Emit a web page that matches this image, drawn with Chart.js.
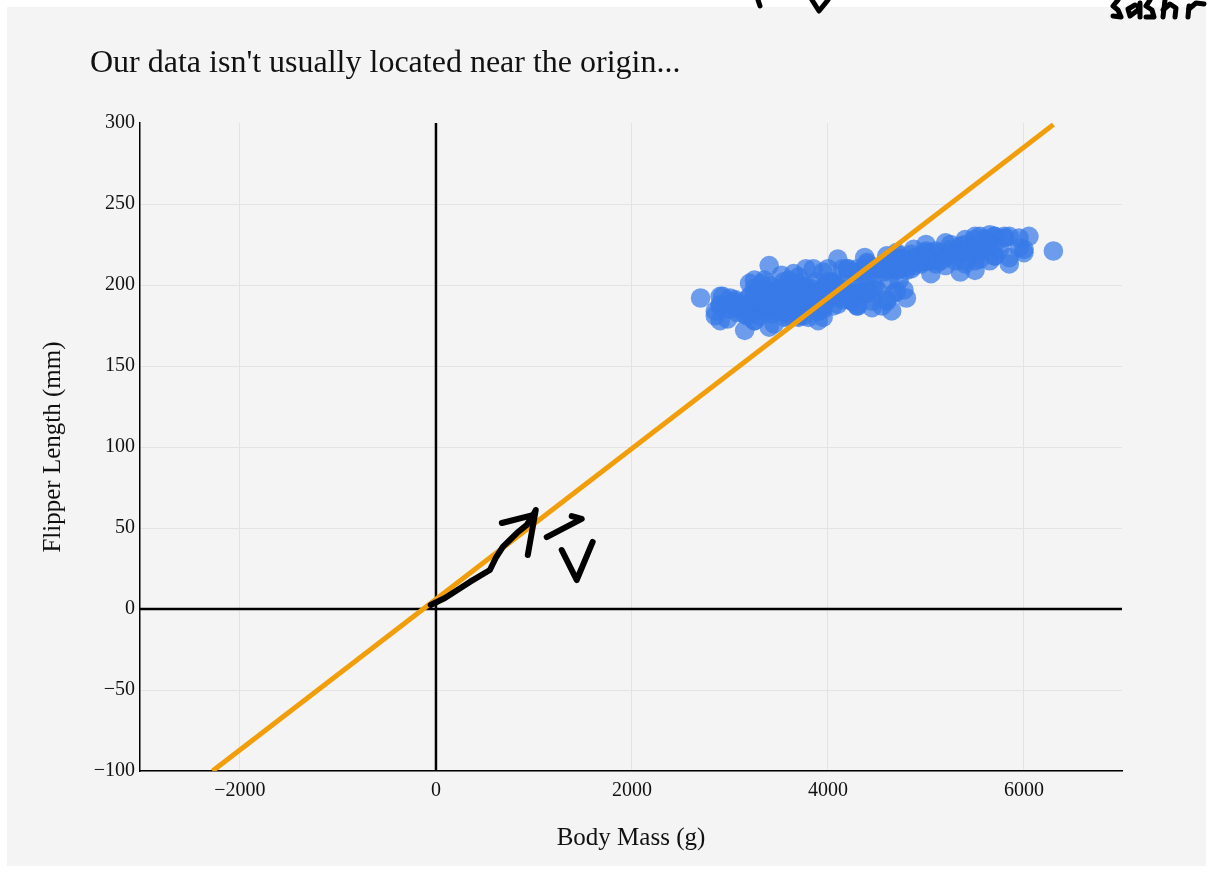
<!DOCTYPE html>
<html>
<head>
<meta charset="utf-8">
<script src="https://cdn.jsdelivr.net/npm/chart.js@4.4.1/dist/chart.umd.min.js"></script>
<style>
  html, body { margin: 0; padding: 0; background: #fff; }
  #wrap { width: 1213px; height: 873px; }
</style>
</head>
<body>
<div id="wrap"><canvas id="chart" width="1213" height="873"></canvas></div>
<script>
// Palmer penguins: [body mass (g), flipper length (mm)]
const adelie = [
  [3750,181],[3800,186],[3250,195],[3450,193],[3650,190],[3625,181],[4675,195],[3475,193],[4250,190],[3300,186],
  [3700,180],[3200,182],[3800,191],[4400,198],[3700,185],[3450,195],[4500,197],[3325,184],[4200,194],[3400,174],
  [3600,180],[3800,189],[3950,185],[3800,180],[3800,187],[3550,183],[3200,187],[3150,172],[3950,180],[3250,178],
  [3900,178],[3300,188],[3900,184],[3325,195],[4150,196],[3950,190],[3550,180],[3300,181],[4650,184],[3150,182],
  [3900,195],[3100,186],[4400,196],[3000,185],[4600,190],[3425,182],[2975,179],[3450,190],[4150,191],[3500,186],
  [4300,188],[3450,190],[4050,200],[2900,187],[3700,191],[3550,186],[3800,193],[2850,181],[3750,194],[3150,185],
  [4400,195],[3600,185],[4050,192],[2850,184],[3950,192],[3350,195],[4100,188],[3050,190],[4450,198],[3600,190],
  [3900,190],[3550,196],[4150,197],[3700,190],[4250,195],[3700,191],[3900,184],[3550,187],[4000,195],[3200,189],
  [4700,196],[3800,187],[4200,193],[3350,191],[3550,194],[3800,190],[3500,189],[3950,189],[3600,190],[3550,202],
  [4300,205],[3400,185],[4450,186],[3300,187],[4300,208],[3700,190],[4350,196],[2900,178],[4100,192],[3725,192],
  [4725,203],[3075,183],[4250,190],[2925,193],[3550,184],[3750,199],[3900,190],[3175,181],[4775,197],[3825,198],
  [4600,191],[3200,193],[4275,197],[3900,191],[4075,196],[2900,188],[3775,199],[3350,189],[3325,189],[3150,187],
  [3500,198],[3450,176],[3875,202],[3050,186],[4000,199],[3275,191],[4300,195],[3050,191],[4000,210],[3325,190],
  [3500,197],[3500,193],[4475,199],[3425,187],[3900,190],[3175,191],[3975,200],[3400,185],[4250,193],[3400,193],
  [3475,187],[3050,188],[3725,190],[3000,192],[3650,185],[4250,190],[3475,184],[3450,195],[3750,193],[3700,187],
  [4000,201]
];
const gentoo = [
  [4500,211],[5700,230],[4450,210],[5700,218],[5400,215],[4550,210],[4800,211],[5200,219],[4400,209],[5150,215],
  [4650,214],[5550,216],[4650,214],[5850,213],[4200,210],[5850,217],[4150,210],[6300,221],[4800,209],[5350,222],
  [5700,218],[5000,215],[4400,213],[5050,215],[5000,215],[5100,215],[4100,216],[5650,215],[4600,210],[5550,220],
  [5250,222],[4700,209],[5050,207],[6050,230],[5150,220],[5400,220],[4950,213],[5250,219],[4350,208],[5350,208],
  [3950,208],[5700,225],[4300,210],[4750,216],[5550,222],[4900,217],[4200,210],[5400,225],[5100,213],[5300,215],
  [4850,210],[5300,220],[4400,210],[5000,225],[4900,217],[5050,220],[4300,208],[5000,220],[4450,208],[5550,224],
  [4200,208],[5300,221],[4400,214],[5650,231],[4700,219],[5700,230],[4650,214],[5800,229],[4700,220],[5550,223],
  [4750,216],[5000,221],[5100,221],[5200,217],[4700,216],[5800,230],[4600,209],[6000,220],[4750,215],[5950,223],
  [4625,212],[5450,221],[4725,212],[5350,224],[4750,212],[5600,228],[4600,218],[5300,218],[4875,212],[5550,230],
  [4950,218],[5400,228],[4750,212],[5650,224],[4850,214],[5200,226],[4925,216],[4875,222],[4625,203],[5250,225],
  [4850,219],[5600,228],[4975,215],[5500,228],[4725,216],[5500,215],[4700,210],[5500,219],[4575,208],[5500,209],
  [5000,216],[5950,229],[4650,213],[5500,230],[4375,217],[5850,230],[4875,217],[6000,222],[4925,214],[4850,215],
  [5750,222],[5200,212],[5400,213]
];
const chinstrap = [
  [3500,192],[3900,196],[3650,193],[3525,188],[3725,197],[3950,198],[3250,178],[3750,197],[4150,195],[3700,198],
  [3800,193],[3775,194],[3700,185],[4050,201],[3575,190],[4050,201],[3300,197],[3700,181],[3450,190],[4400,195],
  [3600,191],[3400,187],[2900,193],[3800,195],[3300,197],[4150,200],[3400,200],[3800,191],[3700,205],[4550,187],
  [3200,201],[4300,187],[3350,203],[4100,195],[3600,199],[3900,195],[3850,210],[4800,192],[2700,192],[4500,210],
  [3950,187],[3650,196],[3550,196],[3500,196],[3675,201],[4450,190],[3400,212],[4300,187],[3250,198],[3675,199],
  [3325,201],[3950,193],[3600,203],[4050,187],[3350,197],[3450,191],[3250,203],[4050,202],[3800,194],[3525,206],
  [3950,189],[3650,195],[3650,207],[4000,202],[3400,193],[3775,210],[4100,198]
];

// Reference line drawn through the plot (two end points, mass vs. length)
const lineX = [-2280, 6300];
const lineY = [-100, 299];

const xRange = [-3020, 7000];
const yRange = [-100, 300];
const xTicks = [-2000, 0, 2000, 4000, 6000];
const yTicks = [-100, -50, 0, 50, 100, 150, 200, 250, 300];

const chartTitle = "Our data isn't usually located near the origin...";
const xTitle = 'Body Mass (g)';
const yTitle = 'Flipper Length (mm)';

// Hand-drawn vector sketch, in axis units (mass, length)
const sketchStrokes = [
  [[-54,2.5],[92,6.8],[346,16.7],[550,24.1],[610,31.5],[682,38.3],[825,46.9],[927,51.9],[1008,59.9]],
  [[672,53.1],[988,58.0]],
  [[1018,61.1],[937,33.3]],
  [[1130,44.4],[1487,55.6],[1385,57.4]],
  [[1283,36.4],[1436,17.9],[1599,41.4]]
];
// Ink along the top edge of the page, in canvas pixels
const edgeStrokes = [
  [[758,0],[760,6]],
  [[812,0],[819,11],[828,0]],
  [[1118,0],[1113,6],[1118,10],[1121,17],[1113,16]],
  [[1135,5],[1128,9],[1130,16],[1138,10],[1140,3],[1140,17]],
  [[1150,0],[1146,6],[1152,10],[1154,17],[1146,17]],
  [[1165,0],[1163,17]],
  [[1163,10],[1170,4],[1176,8],[1175,17]],
  [[1188,17],[1189,6]],
  [[1189,9],[1196,3],[1204,4]]
];

const serif = '"Liberation Serif", "DejaVu Serif", serif';
const fmt = v => String(v).replace('-', '\u2212');
const toPts = arr => arr.map(([m, f]) => ({ x: m, y: f }));
const gridColor = '#e3e3e3';

const decor = {
  id: 'decor',
  beforeDraw(chart) {
    const c = chart.ctx;
    c.save();
    c.fillStyle = '#ffffff';
    c.fillRect(0, 0, chart.width, chart.height);
    c.fillStyle = '#f4f4f4';
    c.fillRect(7, 7, 1199, 859);
    c.restore();
  },
  // zero lines sit above the grid, below the data
  beforeDatasetsDraw(chart) {
    const c = chart.ctx, a = chart.chartArea, xs = chart.scales.x, ys = chart.scales.y;
    const x0 = xs.getPixelForValue(0), y0 = ys.getPixelForValue(0);
    c.save();
    c.strokeStyle = '#000';
    c.lineWidth = 2.5;
    c.beginPath();
    c.moveTo(x0, a.top); c.lineTo(x0, a.bottom);
    c.moveTo(a.left, y0); c.lineTo(a.right, y0);
    c.stroke();
    c.restore();
  },
  afterDraw(chart) {
    const c = chart.ctx, xs = chart.scales.x, ys = chart.scales.y;
    c.save();
    c.fillStyle = '#111';
    c.font = '32px ' + serif;
    c.textBaseline = 'alphabetic';
    c.textAlign = 'left';
    c.fillText(chartTitle, 90, 72);

    c.strokeStyle = '#000';
    c.lineCap = 'round';
    c.lineJoin = 'round';
    c.lineWidth = 6;
    for (const s of sketchStrokes) {
      c.beginPath();
      s.forEach(([x, y], i) => {
        const px = xs.getPixelForValue(x), py = ys.getPixelForValue(y);
        if (i) c.lineTo(px, py); else c.moveTo(px, py);
      });
      c.stroke();
    }
    c.lineWidth = 5;
    for (const s of edgeStrokes) {
      c.beginPath();
      s.forEach(([x, y], i) => { if (i) c.lineTo(x, y); else c.moveTo(x, y); });
      c.stroke();
    }
    c.restore();
  }
};

new Chart(document.getElementById('chart'), {
  type: 'scatter',
  data: {
    datasets: [
      {
        type: 'line',
        data: lineX.map((x, i) => ({ x, y: lineY[i] })),
        borderColor: '#f19e0a',
        borderWidth: 5,
        pointRadius: 0,
        fill: false,
        order: 0
      },
      {
        data: [...toPts(adelie), ...toPts(gentoo), ...toPts(chinstrap)],
        backgroundColor: 'rgba(55,122,232,0.72)',
        borderWidth: 0,
        pointRadius: 9.8,
        order: 1
      }
    ]
  },
  options: {
    responsive: false,
    animation: false,
    devicePixelRatio: 1,
    layout: { padding: { left: 0, top: 123, right: 91, bottom: 0 } },
    plugins: { legend: { display: false }, tooltip: { enabled: false } },
    scales: {
      x: {
        type: 'linear',
        min: xRange[0], max: xRange[1],
        afterBuildTicks: s => { s.ticks = xTicks.map(v => ({ value: v })); },
        afterFit: s => { s.height = 102; },
        ticks: { callback: fmt, color: '#111', padding: 8, font: { family: serif, size: 20 } },
        grid: { drawTicks: false, color: gridColor, lineWidth: 1 },
        border: { color: '#000', width: 1.5 },
        title: { display: true, text: xTitle, color: '#111', font: { family: serif, size: 25 }, padding: { top: 20, bottom: 20 } }
      },
      y: {
        type: 'linear',
        min: yRange[0], max: yRange[1],
        afterBuildTicks: s => { s.ticks = yTicks.map(v => ({ value: v })); },
        afterFit: s => { s.width = 140; },
        ticks: { callback: fmt, color: '#111', padding: 5, font: { family: serif, size: 20 } },
        grid: {
          drawTicks: false,
          color: ctx => (ctx.tick && ctx.tick.value === 300) ? 'rgba(0,0,0,0)' : gridColor,
          lineWidth: 1
        },
        border: { color: '#000', width: 1.5 },
        title: { display: true, text: yTitle, color: '#111', font: { family: serif, size: 25 }, padding: { top: 38, bottom: 38 } }
      }
    }
  },
  plugins: [decor]
});
</script>
</body>
</html>
